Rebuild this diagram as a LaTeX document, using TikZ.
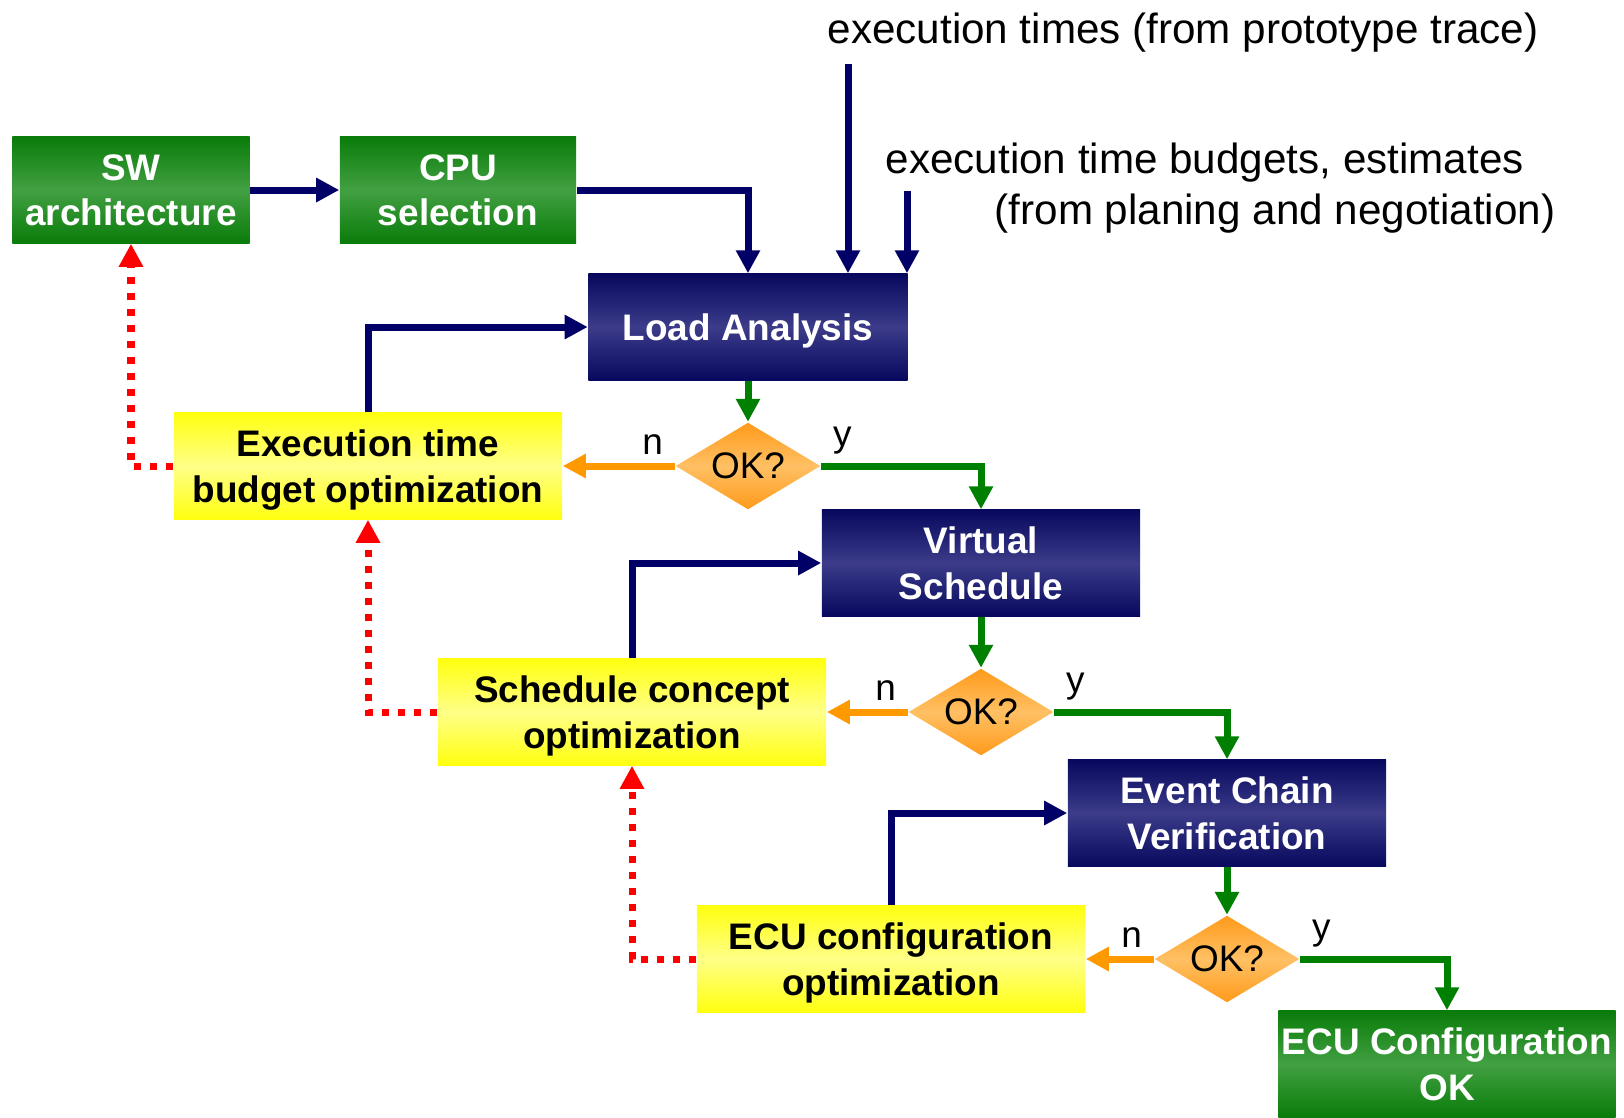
\documentclass[tikz,border=0pt]{standalone}
\usepackage{fontspec}
\setmainfont{Liberation Sans}
\usepackage{tikz}
\usetikzlibrary{arrows.meta, positioning, shapes.geometric, calc}
\definecolor{navyline}{HTML}{000066}
\definecolor{greenline}{HTML}{008000}
\definecolor{orangeline}{HTML}{FF9900}
\definecolor{redline}{HTML}{FF0000}
\definecolor{boxgreen}{HTML}{0A7C0A}
\definecolor{boxgreenlight}{HTML}{42A042}
\definecolor{boxnavy}{HTML}{08085E}
\definecolor{boxnavylight}{HTML}{3C3C8A}
\definecolor{boxyellow}{HTML}{FFFF10}
\definecolor{boxyellowlight}{HTML}{FFFF88}
\definecolor{okorange}{HTML}{FF9A1A}
\definecolor{okorangelight}{HTML}{FFC064}

\begin{document}
\begin{tikzpicture}[x=0.01cm, y=-0.01cm,
  box/.style={rectangle, minimum height=1.06cm, inner sep=0pt, align=center,
    text depth=0pt, font=\fontsize{10.5}{13}\selectfont\bfseries},
  greenbox/.style={box, top color=boxgreen, bottom color=boxgreen,
    middle color=boxgreenlight, text=white},
  navybox/.style={box, top color=boxnavy, bottom color=boxnavy,
    middle color=boxnavylight, text=white, minimum width=3.18cm},
  optbox/.style={box, top color=boxyellow, bottom color=boxyellow,
    middle color=boxyellowlight, text=black, minimum width=3.88cm},
  okdiamond/.style={diamond, aspect=1.67, minimum width=1.45cm, minimum height=0.87cm,
    inner sep=0pt, top color=okorange, bottom color=okorange, middle color=okorangelight,
    font=\fontsize{10.5}{13}\selectfont},
  answer/.style={inner sep=3.2pt, font=\fontsize{10.5}{13}\selectfont},
  note/.style={inner sep=0pt, font=\fontsize{12}{14}\selectfont},
  flow/.style={line width=0.07cm, -{Triangle[length=0.23cm, width=0.23cm]}},
  navyflow/.style={flow, navyline},
  greenflow/.style={flow, greenline},
  orangeflow/.style={flow, orangeline},
  redflow/.style={flow, redline, dash pattern=on 0.07cm off 0.09cm},
]
  \useasboundingbox (0,0) rectangle (1624,1117);

  % Input notes
  \node[note] (times) at (1183,33) {execution times (from prototype trace)};
  \node[note, anchor=west] (budgets) at (885,163) {execution time budgets, estimates};
  \node[note, anchor=west] (planing) at (994,214) {(from planing and negotiation)};
  \coordinate (in1) at (848,64);
  \coordinate (in2) at (907,191);

  % Boxes
  \node[greenbox, minimum width=2.37cm] (sw) at (131,190) {SW\\architecture};
  \node[greenbox, minimum width=2.36cm] (cpu) at (458,190) {CPU\\selection};
  \node[navybox, minimum width=3.19cm] (la) at (748,327) {Load Analysis};
  \node[okdiamond] (ok1) at (748,466) {OK?};
  \node[optbox] (eto) at (368,466) {Execution time\\budget optimization};
  \node[navybox] (vs) at (981,563) {Virtual\\Schedule};
  \node[okdiamond] (ok2) at (981,712) {OK?};
  \node[optbox] (sco) at (632,712) {Schedule concept\\optimization};
  \node[navybox] (ecv) at (1227,813) {Event Chain\\Verification};
  \node[okdiamond] (ok3) at (1227,959) {OK?};
  \node[optbox] (eco) at (891,959) {ECU configuration\\optimization};
  \node[greenbox, minimum width=3.37cm] (ecuok) at (1447,1064) {ECU Configuration\\OK};

  % Answers
  \node[answer, above left] (n1) at (ok1.west) {n};
  \node[answer, above right] (y1) at (ok1.east) {y};
  \node[answer, above left] (n2) at (ok2.west) {n};
  \node[answer, above right] (y2) at (ok2.east) {y};
  \node[answer, above left] (n3) at (ok3.west) {n};
  \node[answer, above right] (y3) at (ok3.east) {y};

  % Main flow
  \draw[navyflow] (sw) -- (cpu);
  \draw[navyflow] (cpu.east) -| (la.north);
  \draw[navyflow] (in1) -- (in1 |- la.north);
  \draw[navyflow] (in2) -- (in2 |- la.north);
  \draw[greenflow] (la) -- (ok1);
  \draw[greenflow] (ok1.east) -| (vs.north);
  \draw[greenflow] (vs) -- (ok2);
  \draw[greenflow] (ok2.east) -| (ecv.north);
  \draw[greenflow] (ecv) -- (ok3);
  \draw[greenflow] (ok3.east) -| (ecuok.north);

  % Rejections
  \draw[orangeflow] (ok1) -- (eto);
  \draw[orangeflow] (ok2) -- (sco);
  \draw[orangeflow] (ok3) -- (eco);

  % Optimization loops
  \draw[navyflow] (eto.north) |- (la.west);
  \draw[navyflow] (sco.north) |- (vs.west);
  \draw[navyflow] (eco.north) |- (ecv.west);
  \draw[redflow] (eto.west) -| (sw.south);
  \draw[redflow] (sco.west) -| (eto.south);
  \draw[redflow] (eco.west) -| (sco.south);
\end{tikzpicture}
\end{document}
